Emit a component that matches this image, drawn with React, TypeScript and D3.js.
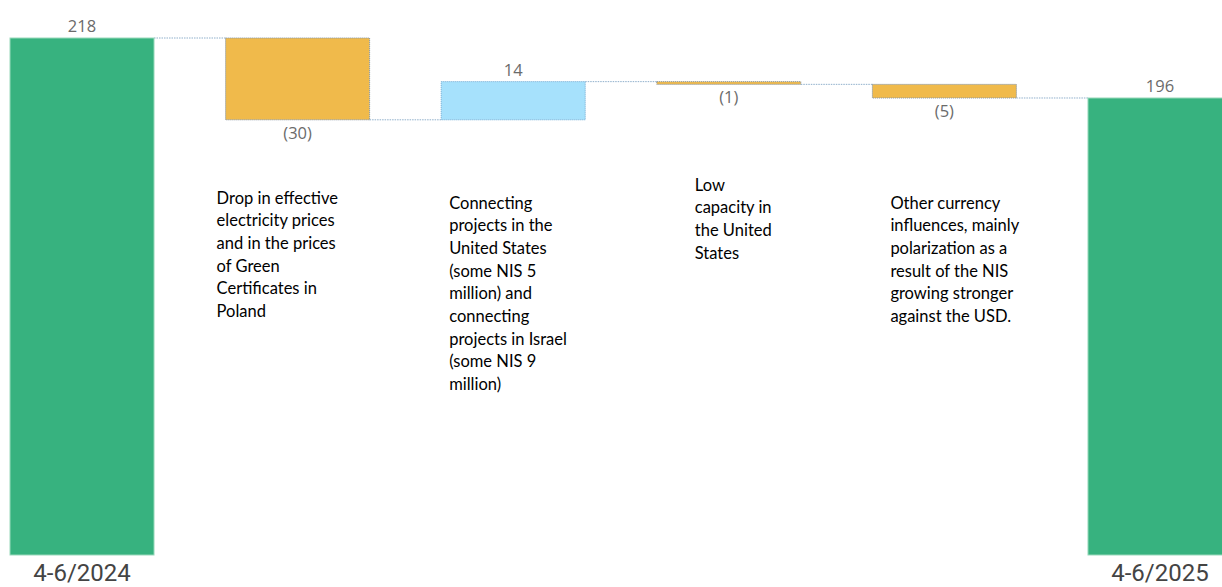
import React from "react";
import * as d3 from "d3";

const categories = ["4-6/2024", "drop", "connect", "low", "currency", "4-6/2025"];
const kinds = ["total", "delta", "delta", "delta", "delta", "total"];
const values = [218, -30, 14, -1, -5, 196];
const valueLabels = ["218", "(30)", "14", "(1)", "(5)", "196"];
const axisLabels = ["4-6/2024", "", "", "", "", "4-6/2025"];
const annotations: string[][] = [
  [],
  ["Drop in effective", "electricity prices", "and in the prices", "of Green", "Certificates in", "Poland"],
  ["Connecting", "projects in the", "United States", "(some NIS 5", "million) and", "connecting", "projects in Israel", "(some NIS 9", "million)"],
  ["Low", "capacity in", "the United", "States"],
  ["Other currency", "influences, mainly", "polarization as a", "result of the NIS", "growing stronger", "against the USD."],
  [],
];
const AXIS_MIN = 28.4;

const W = 1222;
const H = 587;
const GREEN = "#37B27F";
const ORANGE = "#F0BA4B";
const BLUE = "#A6E1FC";
const annDx = [0, -9, 8, 38, 18, 0];
const annY = [0, 203.5, 208.5, 190.5, 208.5, 0];

export default function App() {
  const x = d3
    .scaleBand<string>()
    .domain(categories)
    .range([10, 1232])
    .paddingInner(0.332)
    .paddingOuter(0);
  const maxV = d3.max(values) as number;
  const y = d3.scaleLinear().domain([AXIS_MIN, maxV]).range([555, 38]);
  const bw = x.bandwidth();

  let running = 0;
  const bars = values.map((v, i) => {
    let lo: number, hi: number, end: number;
    if (kinds[i] === "total") {
      lo = AXIS_MIN;
      hi = v;
      end = v;
    } else {
      const start = running;
      end = running + v;
      lo = Math.min(start, end);
      hi = Math.max(start, end);
    }
    running = end;
    return { cat: categories[i], v, lo, hi, end, kind: kinds[i] };
  });

  return (
    <svg
      width={W}
      height={H}
      style={{ position: "absolute", left: 0, top: 0, display: "block" }}
    >
      <rect x={0} y={0} width={W} height={H} fill="#fff" />
      {/* connectors */}
      {bars.slice(0, -1).map((b, i) => {
        const x1 = (x(b.cat) as number) + bw;
        const x2 = x(bars[i + 1].cat) as number;
        const yy = y(b.end);
        return (
          <line
            key={"c" + i}
            x1={x1}
            x2={x2}
            y1={yy}
            y2={yy}
            stroke="#8FAFCB"
            strokeWidth={1}
            strokeDasharray="1.5 1"
          />
        );
      })}
      {bars.map((b, i) => {
        const fill = b.kind === "total" ? GREEN : b.v < 0 ? ORANGE : BLUE;
        const stroke = b.kind === "total" ? "#9AD9BC" : b.v < 0 ? "#8C9AA6" : "#7FB4D8";
        const top = y(b.hi);
        const bottom = y(b.lo);
        return (
          <rect
            key={"b" + i}
            x={x(b.cat)}
            y={top}
            width={bw}
            height={Math.max(1, bottom - top)}
            fill={fill}
            stroke={stroke}
            strokeWidth={1}
            strokeDasharray={b.kind === "total" ? undefined : "1.2 0.8"}
          />
        );
      })}
      {/* value labels */}
      {bars.map((b, i) => {
        const cx = (x(b.cat) as number) + bw / 2;
        const above = b.kind === "total" || b.v > 0;
        const yy = above ? y(b.hi) - 6 : y(b.lo) + 19;
        return (
          <text
            key={"v" + i}
            x={cx}
            y={yy}
            textAnchor="middle"
            fontFamily="'Open Sans', sans-serif"
            fontSize={16.5}
            fill="#6B6B6B"
          >
            {valueLabels[i]}
          </text>
        );
      })}
      {/* axis labels */}
      {bars.map((b, i) =>
        axisLabels[i] ? (
          <text
            key={"a" + i}
            x={(x(b.cat) as number) + bw / 2}
            y={580.5}
            textAnchor="middle"
            fontFamily="Roboto, sans-serif"
            fontSize={24}
            fill="#444"
          >
            {axisLabels[i]}
          </text>
        ) : null
      )}
      {/* annotations */}
      {annotations.map((lines, i) =>
        lines.length ? (
          <text
            key={"n" + i}
            fontFamily="Lato, sans-serif"
            fontSize={16.5}
            fill="#000"
          >
            {lines.map((l, j) => (
              <tspan key={j} x={(x(categories[i]) as number) + annDx[i]} y={annY[i] + j * 22.7}>
                {l}
              </tspan>
            ))}
          </text>
        ) : null
      )}
    </svg>
  );
}
